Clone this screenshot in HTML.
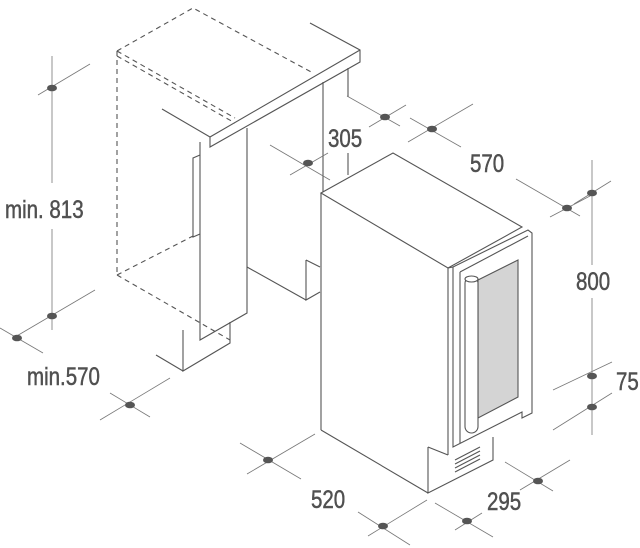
<!DOCTYPE html>
<html><head><meta charset="utf-8"><style>
html,body{margin:0;padding:0;background:#fff;}
svg{display:block;}
text{font-family:"Liberation Sans",sans-serif;fill:#505050;font-size:25px;stroke:#505050;stroke-width:0.5;}
</style></head><body>
<svg width="640" height="548" viewBox="0 0 640 548" xmlns="http://www.w3.org/2000/svg">
<g fill="none" stroke="#555" stroke-width="1.1">
<g stroke-dasharray="5,4">
<polyline points="117,51 193,8 313,73"/>
<line x1="117" y1="51" x2="235" y2="118"/>
<line x1="117" y1="56" x2="235" y2="123"/>
<line x1="117" y1="51" x2="117" y2="275"/>
<line x1="117" y1="275" x2="195" y2="235"/>
<line x1="117" y1="275" x2="230" y2="340"/>
</g>
<polyline points="310,23 360,50 360,62 210,147 210,137 360,50"/>
<line x1="162" y1="109" x2="210" y2="137"/>
<polyline points="200,142 200,340 247,313 247,128"/>
<polyline points="200,155 193,158 193,237 200,234"/>
<polyline points="183,330 183,371 230,343 230,322"/>
<line x1="156" y1="355" x2="183" y2="371"/>
<line x1="247" y1="267" x2="306" y2="300"/>
<polyline points="306,260 306,300 320,292"/>
<line x1="306" y1="260" x2="320" y2="267"/>
<line x1="323" y1="82" x2="323" y2="193"/>
<line x1="348" y1="68" x2="348" y2="97"/>
<line x1="348" y1="153" x2="348" y2="175"/>
<polygon points="321,193 393,153 522,227 448,268" fill="#fff"/>
<line x1="321" y1="193" x2="321" y2="430"/>
<line x1="321" y1="430" x2="428" y2="493"/>
<line x1="448" y1="268" x2="448" y2="455"/>
<polyline points="428,447 428,493 493,460 493,437"/>
<line x1="428" y1="447" x2="448" y2="455"/>
<polygon points="453,267 528,230 532,233 532,413 522,418 522,412 453,447" fill="#fff"/>
<line x1="448" y1="268" x2="453" y2="267"/>
<line x1="460" y1="272" x2="528" y2="236"/>
<line x1="460" y1="272" x2="460" y2="443"/>
<polygon points="478,280 518,260 518,397 478,418" fill="#d4d4d4"/>
<rect x="465" y="277" width="13" height="156" rx="6.5" fill="#fff"/>
<ellipse cx="471.5" cy="279" rx="6.5" ry="3" fill="#fff"/>
<line x1="455" y1="460" x2="480" y2="447"/>
<line x1="455" y1="464" x2="480" y2="451"/>
<line x1="455" y1="468" x2="480" y2="455"/>
<line x1="455" y1="472" x2="480" y2="459"/>
</g>
<g stroke="#777" stroke-width="0.8">
<line x1="52" y1="56" x2="52" y2="183"/>
<line x1="52" y1="229" x2="52" y2="330"/>
<line x1="38" y1="95" x2="90" y2="64"/>
<line x1="15" y1="337" x2="95" y2="290"/>
<line x1="0" y1="328" x2="43" y2="353"/>
<line x1="100" y1="420" x2="170" y2="378"/>
<line x1="110" y1="393" x2="150" y2="417"/>
<line x1="270" y1="145" x2="330" y2="180"/>
<line x1="290" y1="175" x2="328" y2="153"/>
<line x1="347" y1="96" x2="400" y2="126"/>
<line x1="369" y1="127" x2="406" y2="105"/>
<line x1="410" y1="118" x2="461" y2="147"/>
<line x1="408" y1="142" x2="473" y2="104"/>
<line x1="516" y1="179" x2="580" y2="216"/>
<line x1="550" y1="217" x2="590" y2="196"/>
<line x1="574" y1="204" x2="611" y2="181"/>
<line x1="592" y1="160" x2="592" y2="265"/>
<line x1="592" y1="298" x2="592" y2="435"/>
<line x1="553" y1="390" x2="612" y2="362"/>
<line x1="553" y1="430" x2="612" y2="393"/>
<line x1="240" y1="443" x2="301" y2="479"/>
<line x1="247" y1="474" x2="315" y2="434"/>
<line x1="358" y1="512" x2="410" y2="545"/>
<line x1="368" y1="536" x2="427" y2="500"/>
<line x1="435" y1="503" x2="493" y2="537"/>
<line x1="455" y1="530" x2="482" y2="513"/>
<line x1="505" y1="462" x2="553" y2="491"/>
<line x1="520" y1="490" x2="570" y2="460"/>
</g>
<g fill="#555">
<ellipse cx="52" cy="88" rx="5" ry="3.3"/>
<ellipse cx="52" cy="316" rx="5" ry="3.3"/>
<ellipse cx="17" cy="338" rx="5" ry="3.3"/>
<ellipse cx="130" cy="405" rx="5" ry="3.3"/>
<ellipse cx="308" cy="163" rx="5" ry="3.3"/>
<ellipse cx="385" cy="117" rx="5" ry="3.3"/>
<ellipse cx="432" cy="129" rx="5" ry="3.3"/>
<ellipse cx="567" cy="208" rx="5" ry="3.3"/>
<ellipse cx="592" cy="193" rx="5" ry="3.3"/>
<ellipse cx="592" cy="376" rx="5" ry="3.3"/>
<ellipse cx="592" cy="407" rx="5" ry="3.3"/>
<ellipse cx="268" cy="460" rx="5" ry="3.3"/>
<ellipse cx="383" cy="526" rx="5" ry="3.3"/>
<ellipse cx="467" cy="521" rx="5" ry="3.3"/>
<ellipse cx="538" cy="481" rx="5" ry="3.3"/>
</g>
<g>
<text x="5" y="218" transform="translate(5 218) scale(0.82 1) translate(-5 -218)">min. 813</text>
<text x="27" y="385" transform="translate(27 385) scale(0.82 1) translate(-27 -385)">min.570</text>
<text x="328" y="147" transform="translate(328 147) scale(0.82 1) translate(-328 -147)">305</text>
<text x="470" y="172" transform="translate(470 172) scale(0.82 1) translate(-470 -172)">570</text>
<text x="576" y="290" transform="translate(576 290) scale(0.82 1) translate(-576 -290)">800</text>
<text x="616" y="390" transform="translate(616 390) scale(0.82 1) translate(-616 -390)">75</text>
<text x="311" y="508" transform="translate(311 508) scale(0.82 1) translate(-311 -508)">520</text>
<text x="487" y="510" transform="translate(487 510) scale(0.82 1) translate(-487 -510)">295</text>
</g>
</svg>
</body></html>
